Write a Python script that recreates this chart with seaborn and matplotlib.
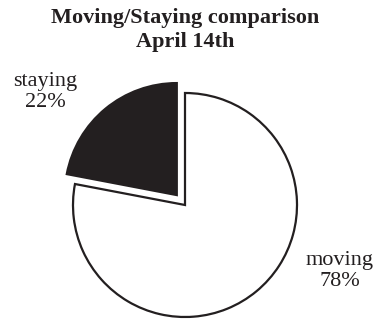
import matplotlib
matplotlib.use("Agg")
import matplotlib.pyplot as plt
import seaborn as sns

# Share of people moving vs staying
categories = ["moving", "staying"]
shares = [78, 22]
colors = ["white", "#231f20"]
explode = [0.0, 0.115]

sns.set_style("white")
plt.rcParams["font.family"] = ["Liberation Serif", "DejaVu Serif"]

W, H = 379, 321
fig = plt.figure(figsize=(W / 100, H / 100), dpi=100)
ax = fig.add_axes([0, 0, 1, 1])

ax.pie(shares, colors=colors, explode=explode, startangle=90,
       counterclock=False, radius=1.0,
       wedgeprops=dict(edgecolor="#231f20", linewidth=1.6))

# pie() resets the limits; frame the unit pie inside the figure
cx, cy, r = 185, 205, 112
ax.set_xlim(-cx / r, (W - cx) / r)
ax.set_ylim(-(H - cy) / r, cy / r)
ax.set_aspect("equal")
ax.axis("off")

ink = "#231f20"
fig.text(185 / W, 1 - 18 / H, "Moving/Staying comparison", ha="center", va="center",
         fontsize=16, fontweight="bold", color=ink)
fig.text(185 / W, 1 - 42 / H, "April 14th", ha="center", va="center",
         fontsize=16, fontweight="bold", color=ink)

fig.text(45 / W, 1 - 92 / H, f"{categories[1]}\n{shares[1]}%", ha="center", va="center",
         fontsize=16, color=ink, linespacing=1.1)
fig.text(340 / W, 1 - 271 / H, f"{categories[0]}\n{shares[0]}%", ha="center", va="center",
         fontsize=16, color=ink, linespacing=1.1)

fig.savefig("out.png", dpi=100)
